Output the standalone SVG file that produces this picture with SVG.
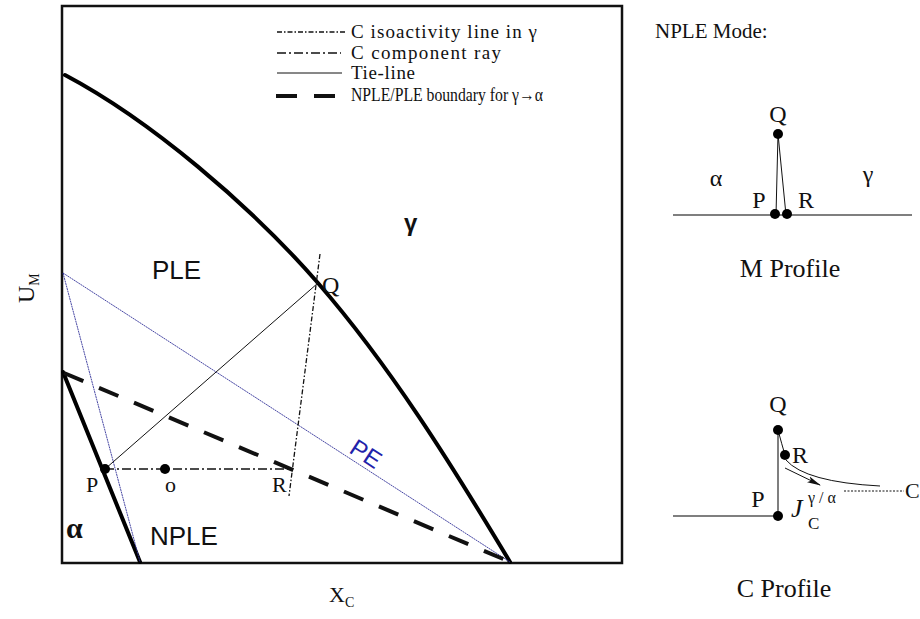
<svg xmlns="http://www.w3.org/2000/svg" width="920" height="619" viewBox="0 0 920 619">
<style>
.serif{font-family:"Liberation Serif","Times New Roman",serif;fill:#111}
.sans{font-family:"Liberation Sans",Arial,sans-serif;fill:#111}
.thick{stroke:#000;stroke-width:4;fill:none;stroke-linecap:round}
.thin{stroke:#111;stroke-width:1;fill:none}
.blue{stroke:#33339a;stroke-width:0.9;fill:none;stroke-dasharray:2,0.6}
.bnd{stroke:#111;stroke-width:4;fill:none;stroke-dasharray:21,17}
.iso{stroke:#111;stroke-width:1.3;fill:none;stroke-dasharray:5,2,1.5,2}
.ray{stroke:#111;stroke-width:1.6;fill:none;stroke-dasharray:9,3,2,3}
.gray{stroke:#555;stroke-width:1.5;fill:none}
.dot{fill:#000}
.lg{font-size:19px}
.rp{font-size:24px}
</style>
<defs>
<marker id="arr" markerWidth="14" markerHeight="8" refX="13" refY="4" orient="auto" markerUnits="userSpaceOnUse">
<path d="M0,0.8 L14,4 L0,7.2 L3,4 Z" fill="#111"/>
</marker>
</defs>
<rect width="920" height="619" fill="#fff"/>

<g id="frame">
<rect x="62" y="6" width="560" height="557" fill="none" stroke="#111" stroke-width="2.5"/>
</g>

<g id="connectors">
<path id="gamma-boundary" class="thick" d="M65,75 C150,120 250,205 318,283 C390,366 450,462 510,562"/>
<path id="alpha-boundary" class="thick" d="M63,372 L140,562"/>
<path id="pe-line" class="blue" d="M63,273 L510,562"/>
<path id="pe-line2" class="blue" d="M63,273 L140,562"/>
<path id="nple-ple-boundary" class="bnd" d="M64,373 L508,561"/>
<path id="tie-line" class="thin" d="M105,469 L318,283"/>
<path id="component-ray" class="ray" d="M105,469 L292,469"/>
<path id="isoactivity" class="iso" d="M320,254 L289,496"/>
</g>

<g id="legend">
<path class="iso" d="M277,32 L345,32"/>
<text class="serif lg" x="351" y="38" textLength="186">C isoactivity line in γ</text>
<path class="ray" d="M277,53 L341,53" stroke-dasharray="7,3,2,3"/>
<text class="serif lg" x="351" y="59" textLength="150">C component ray</text>
<path class="thin" d="M277,73 L342,73"/>
<text class="serif lg" x="351" y="79" textLength="64">Tie-line</text>
<path class="bnd" d="M276,96 L346,96" stroke-dasharray="24,14"/>
<text class="serif lg" x="351" y="101" textLength="192" lengthAdjust="spacingAndGlyphs">NPLE/PLE boundary for γ→α</text>
</g>

<g id="point-P"><circle class="dot" cx="105" cy="469" r="5"/><text class="serif" x="86" y="492" font-size="22">P</text></g>
<g id="point-o"><circle class="dot" cx="165" cy="469" r="5"/><text class="serif" x="165" y="492" font-size="22">o</text></g>
<g id="point-R"><text class="serif" x="272" y="492" font-size="22">R</text></g>
<g id="point-Q"><text class="serif" x="322" y="293" font-size="24">Q</text></g>

<g id="region-labels">
<text class="sans" x="152" y="279" font-size="26">PLE</text>
<text class="sans" x="150" y="545" font-size="26">NPLE</text>
<text class="sans" x="404" y="231" font-size="24" font-weight="bold">γ</text>
<text class="serif" x="66" y="538" font-size="30" font-weight="bold">α</text>
<text class="sans" x="0" y="0" font-size="24" style="fill:#2222aa" transform="translate(348,452) rotate(33)">PE</text>
</g>

<g id="axis-labels">
<text class="serif" font-size="24" transform="translate(34,303) rotate(-90)">U<tspan font-size="14" dy="5">M</tspan></text>
<text class="serif" x="329" y="602" font-size="22">X<tspan font-size="14" dy="5">C</tspan></text>
</g>

<g id="nple-mode-title"><text class="serif" x="655" y="38" font-size="21">NPLE Mode:</text></g>

<g id="m-profile">
<path class="gray" d="M673,215 L912,215"/>
<path class="thin" d="M778,134 L776,215 M778,134 L786,215"/>
<circle class="dot" cx="778" cy="134" r="5"/>
<circle class="dot" cx="775" cy="214" r="5"/>
<circle class="dot" cx="787" cy="214" r="5"/>
<text class="serif rp" x="778" y="122" text-anchor="middle">Q</text>
<text class="serif rp" x="716" y="186" text-anchor="middle">α</text>
<text class="serif rp" x="868" y="182" text-anchor="middle">γ</text>
<text class="serif rp" x="759" y="208" text-anchor="middle">P</text>
<text class="serif rp" x="806" y="208" text-anchor="middle">R</text>
<text class="serif" x="790" y="277" font-size="26" text-anchor="middle">M Profile</text>
</g>

<g id="c-profile">
<path class="gray" d="M673,516 L778,516 L778,430"/>
<path class="thin" d="M778,430 Q782,445 785,455"/>
<path class="thin" d="M786,460 Q805,482 880,486"/>
<path class="thin" d="M785,468 L820,485" marker-end="url(#arr)"/>
<path class="thin" d="M844,491 L904,491" stroke-dasharray="2,1.5"/>
<circle class="dot" cx="778" cy="430" r="5"/>
<circle class="dot" cx="785" cy="455" r="5"/>
<circle class="dot" cx="778" cy="516" r="5"/>
<text class="serif rp" x="778" y="412" text-anchor="middle">Q</text>
<text class="serif rp" x="792" y="463">R</text>
<text class="serif rp" x="758" y="507" text-anchor="middle">P</text>
<text class="serif" x="905" y="498" font-size="22">C</text>
<text class="serif" x="791" y="517" font-size="26" font-style="italic">J</text>
<text class="serif" x="808" y="503" font-size="16">γ / α</text>
<text class="serif" x="808" y="529" font-size="17">C</text>
<text class="serif" x="784" y="597" font-size="26" text-anchor="middle">C Profile</text>
</g>
</svg>
